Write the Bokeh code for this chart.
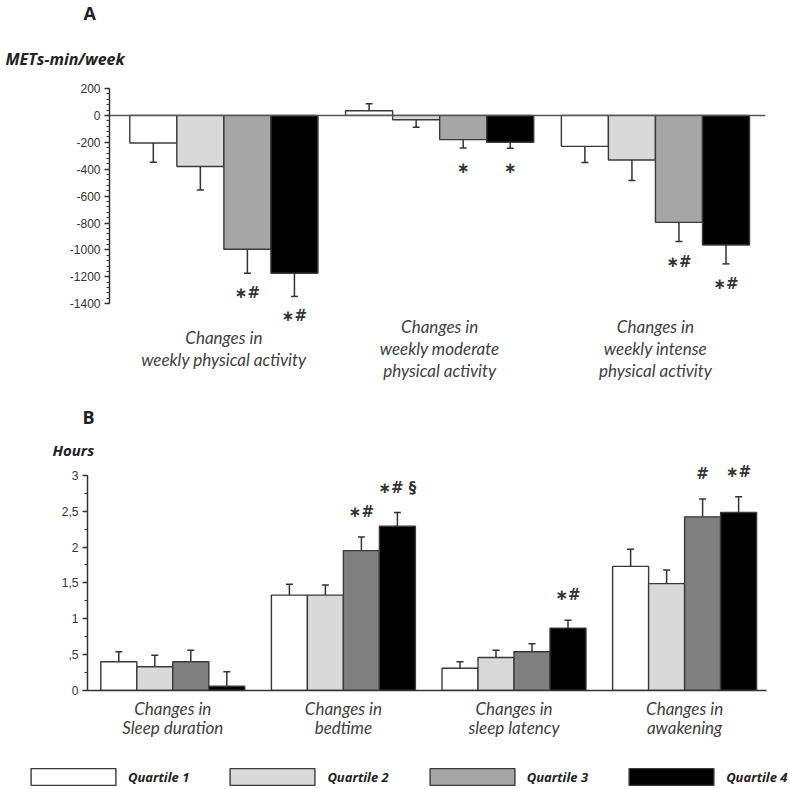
from bokeh.plotting import figure
from bokeh.models import (Range1d, FixedTicker, Span, Legend, LegendItem,
                          ColumnDataSource, LabelSet, Label)
from bokeh.embed import file_html
from bokeh.resources import INLINE
from bokeh.core.properties import value

# ---------------- data ----------------
quartiles = ["Quartile 1", "Quartile 2", "Quartile 3", "Quartile 4"]

# Panel A: METs-min/week
pa_groups = ["Changes in\nweekly physical activity",
             "Changes in\nweekly moderate\nphysical activity",
             "Changes in\nweekly intense\nphysical activity"]
pa_q1 = [-205, 35, -230]
pa_q2 = [-380, -32, -331]
pa_q3 = [-995, -180, -795]
pa_q4 = [-1173, -200, -963]
pa_err_q1 = [143, 52, 120]
pa_err_q2 = [175, 57, 153]
pa_err_q3 = [178, 62, 143]
pa_err_q4 = [173, 45, 141]
pa_sig_q1 = ["", "", ""]
pa_sig_q2 = ["", "", ""]
pa_sig_q3 = ["\u2217#", "\u2217", "\u2217#"]
pa_sig_q4 = ["\u2217#", "\u2217", "\u2217#"]
pa_ticks = [-1400, -1200, -1000, -800, -600, -400, -200, 0, 200]
pa_tick_labels = ["-1400", "-1200", "-1000", "-800", "-600", "-400", "-200", "0", "200"]

# Panel B: Hours
sl_groups = ["Changes in\nSleep duration", "Changes in\nbedtime",
             "Changes in\nsleep latency", "Changes in\nawakening"]
sl_q1 = [0.40, 1.33, 0.31, 1.73]
sl_q2 = [0.33, 1.33, 0.46, 1.49]
sl_q3 = [0.40, 1.95, 0.54, 2.42]
sl_q4 = [0.06, 2.29, 0.87, 2.48]
sl_err_q1 = [0.14, 0.15, 0.09, 0.24]
sl_err_q2 = [0.16, 0.14, 0.10, 0.19]
sl_err_q3 = [0.16, 0.19, 0.11, 0.25]
sl_err_q4 = [0.20, 0.19, 0.11, 0.22]
sl_sig_q1 = ["", "", "", ""]
sl_sig_q2 = ["", "", "", ""]
sl_sig_q3 = ["", "\u2217#", "", "#"]
sl_sig_q4 = ["", "\u2217# \u00a7", "\u2217#", "\u2217#"]
sl_ticks = [0, 0.5, 1, 1.5, 2, 2.5, 3]
sl_tick_labels = ["0", ",5", "1", "1,5", "2", "2,5", "3"]

colors_a = ["#ffffff", "#d9d9d9", "#a6a6a6", "#000000"]
colors_b = ["#ffffff", "#d9d9d9", "#808080", "#000000"]

TITLE_FONT = "Open Sans"
CAT_FONT = "Lato"
EDGE = "#3a3a3a"
W = 790


def draw_bars(p, groups, vals, errs, sigs, colors, bar_w, sig_off_neg, sig_off_pos):
    offsets = [-1.5, -0.5, 0.5, 1.5]
    for qi in range(4):
        xs = [g + offsets[qi] * bar_w for g in range(len(groups))]
        v = vals[qi]
        e = errs[qi]
        ends = [vv - ee if vv < 0 else vv + ee for vv, ee in zip(v, e)]
        src = ColumnDataSource(dict(x=xs, top=v, end=ends, sig=sigs[qi],
                                    yoff=[sig_off_neg if vv < 0 else sig_off_pos for vv in v]))
        p.vbar(x="x", top="top", bottom=0, width=bar_w, source=src,
               fill_color=colors[qi], line_color=EDGE, line_width=1.4)
        p.segment(x0="x", y0="top", x1="x", y1="end", source=src,
                  line_color="#333333", line_width=1.5)
        p.scatter(x="x", y="end", marker="dash", size=7, source=src,
                  line_color="#333333", line_width=1.5)
        p.add_layout(LabelSet(x="x", y="end", text="sig", y_offset="yoff", source=src,
                              text_align="center", text_baseline="middle",
                              text_font=value("DejaVu Sans"), text_font_size="15px",
                              text_font_style="bold", text_color="#333333"))


def style_axes(p, ticks, tick_labels, minor_ticks):
    p.outline_line_color = None
    p.xgrid.visible = False
    p.ygrid.visible = False
    ya = p.yaxis[0]
    ya.ticker = FixedTicker(ticks=ticks, minor_ticks=minor_ticks)
    ya.bounds = (ticks[0], ticks[-1])
    ya.major_label_overrides = {t: l for t, l in zip(ticks, tick_labels)}
    ya.axis_line_color = "#333333"
    ya.axis_line_width = 1.5
    ya.major_tick_line_color = "#333333"
    ya.major_tick_line_width = 1.5
    ya.major_tick_out = 5
    ya.major_tick_in = 0
    ya.minor_tick_line_color = "#333333"
    ya.minor_tick_line_width = 1
    ya.minor_tick_out = 3
    ya.minor_tick_in = 0
    ya.major_label_text_font = "Liberation Sans"
    ya.major_label_text_font_size = "12px"
    ya.major_label_text_color = "#333333"
    ya.major_label_standoff = 4


def header(h, texts):
    """A strip above a chart holding the panel letter and the unit caption."""
    f = figure(width=W, height=h, x_range=Range1d(0, W), y_range=Range1d(h, 0),
               output_backend="svg", toolbar_location=None,
               min_border_left=0, min_border_right=0, min_border_top=0, min_border_bottom=0)
    f.axis.visible = False
    f.grid.visible = False
    f.outline_line_color = None
    for txt, x, y, size, style in texts:
        f.add_layout(Label(x=x, y=y, text=txt, text_align="left", text_baseline="middle",
                           text_font=TITLE_FONT, text_font_size=size, text_font_style=style,
                           text_color="#222222"))
    return f


# ---------------- Panel A ----------------
head_a = header(80, [("A", 83, 12, "18px", "bold"),
                     ("METs-min/week", 5, 58, "16px", "bold italic")])

# the frame runs below the axis end so the labels under the bars are not clipped
top = figure(width=W, height=312, x_range=Range1d(-0.53, 2.51), y_range=Range1d(-2060, 200),
             output_backend="svg", toolbar_location=None,
             min_border_left=109, min_border_right=25, min_border_top=8, min_border_bottom=0)
draw_bars(top, pa_groups, [pa_q1, pa_q2, pa_q3, pa_q4],
          [pa_err_q1, pa_err_q2, pa_err_q3, pa_err_q4],
          [pa_sig_q1, pa_sig_q2, pa_sig_q3, pa_sig_q4], colors_a, 0.218, -20, 20)
top.add_layout(Span(location=0, dimension="width", line_color="#555555", line_width=1.5))
style_axes(top, pa_ticks, pa_tick_labels, list(range(-1400, 201, 40)))
top.xaxis.visible = False

# category captions, one entry per line, each line centred under its group
cx, cy, ct, co = [], [], [], []
LINE_H = 22
for gi, g in enumerate(pa_groups):
    lines = g.split("\n")
    n = len(lines)
    for j, ln in enumerate(lines):
        cx.append(gi)
        cy.append(pa_ticks[0])
        ct.append(ln)
        co.append(-(45 + (j - (n - 1) / 2) * LINE_H))
top.add_layout(LabelSet(x="x", y="y", text="text", y_offset="yoff",
                        source=ColumnDataSource(dict(x=cx, y=cy, text=ct, yoff=co)),
                        text_align="center", text_baseline="middle",
                        text_font=value(CAT_FONT), text_font_style="italic",
                        text_font_size="17px", text_color="#404040"))

# ---------------- Panel B ----------------
head_b = header(68, [("B", 82, 24, "18px", "bold"),
                     ("Hours", 52, 57, "15px", "bold italic")])

bot = figure(width=W, height=304, x_range=Range1d(-0.5, 3.48), y_range=Range1d(0, 3.15),
             output_backend="svg", toolbar_location=None,
             min_border_left=87, min_border_right=24, min_border_top=4, min_border_bottom=74)
draw_bars(bot, sl_groups, [sl_q1, sl_q2, sl_q3, sl_q4],
          [sl_err_q1, sl_err_q2, sl_err_q3, sl_err_q4],
          [sl_sig_q1, sl_sig_q2, sl_sig_q3, sl_sig_q4], colors_b, 0.211, -27, 25)
style_axes(bot, sl_ticks, sl_tick_labels, [i * 0.25 for i in range(13)])
xa = bot.xaxis[0]
xa.ticker = FixedTicker(ticks=list(range(len(sl_groups))))
xa.major_label_overrides = {i: g for i, g in enumerate(sl_groups)}
xa.axis_line_color = "#333333"
xa.axis_line_width = 1.5
xa.major_tick_line_color = None
xa.minor_tick_line_color = None
xa.major_label_text_font = CAT_FONT
xa.major_label_text_font_style = "italic"
xa.major_label_text_font_size = "17px"
xa.major_label_text_line_height = 0.93
xa.major_label_text_color = "#404040"
xa.major_label_standoff = 1

# ---------------- Legend ----------------
leg = figure(width=W, height=24, x_range=Range1d(0, 1), y_range=Range1d(0, 1),
             output_backend="svg", toolbar_location=None,
             min_border_left=0, min_border_right=0, min_border_top=0, min_border_bottom=0)
leg.axis.visible = False
leg.grid.visible = False
leg.outline_line_color = None
items = []
for qi, q in enumerate(quartiles):
    # swatch-only renderer: its single bar has no height value, so nothing is drawn
    r = leg.vbar(x=[0.5], bottom=[0], top=[float("nan")], width=0.1, fill_color=colors_a[qi],
                 line_color=EDGE, line_width=1.4)
    items.append(LegendItem(label=q, renderers=[r]))
legend = Legend(items=items, orientation="horizontal", location=(20, 1),
                glyph_width=106, glyph_height=21, label_standoff=2, spacing=30,
                padding=0, margin=0, border_line_color=None, background_fill_alpha=0,
                label_text_font=TITLE_FONT, label_text_font_style="bold italic",
                label_text_font_size="13px", label_text_color="#222222")
leg.add_layout(legend, "center")

open("out.html", "w").write(file_html([head_a, top, head_b, bot, leg], INLINE))
